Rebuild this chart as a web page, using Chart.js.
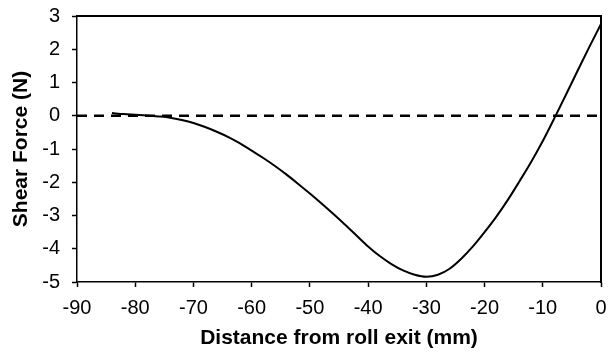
<!DOCTYPE html>
<html>
<head>
<meta charset="utf-8">
<script src="https://cdn.jsdelivr.net/npm/chart.js@4.4.0/dist/chart.umd.min.js"></script>
<style>
  html, body { margin: 0; padding: 0; background: #fff; }
  #wrap { width: 612px; height: 354px; }
</style>
</head>
<body>
<div id="wrap"><canvas id="myChart" width="612" height="354"></canvas></div>
<script>
// distance from roll exit (mm) and shear force (N)
var distance = [-84, -82, -80, -78, -76, -74, -72, -70, -68, -66, -64, -62, -60, -58, -56, -54, -52, -50,
                -48, -46, -44, -42, -40, -38, -36, -34, -32, -30, -28, -26, -24, -22, -20, -18, -16, -14,
                -12, -10, -8, -6, -4, -2, 0];
var shearForce = [0.08, 0.05, 0.03, 0.01, -0.02, -0.06, -0.13, -0.22, -0.34, -0.48, -0.64, -0.83, -1.05, -1.27, -1.51, -1.77, -2.05, -2.34,
                  -2.64, -2.95, -3.27, -3.6, -3.93, -4.22, -4.46, -4.65, -4.78, -4.84, -4.78, -4.6, -4.3, -3.93, -3.5, -3.04, -2.53, -1.97,
                  -1.39, -0.76, -0.07, 0.64, 1.36, 2.07, 2.76];
var zeroLineX = [-90, 0];
var zeroLineY = [0, 0];

var fontName = '"Liberation Sans", Arial, sans-serif';

var curve = distance.map(function (d, i) { return { x: d, y: shearForce[i] }; });
var zero = zeroLineX.map(function (d, i) { return { x: d, y: zeroLineY[i] }; });

var ctx = document.getElementById('myChart').getContext('2d');
var chart = new Chart(ctx, {
    type: 'scatter',
    data: {
        datasets: [{
            data: zero,
            showLine: true,
            borderColor: '#000',
            borderWidth: 2.5,
            borderDash: [10, 7],
            pointRadius: 0
        }, {
            data: curve,
            showLine: true,
            borderColor: '#000',
            borderWidth: 2,
            cubicInterpolationMode: 'monotone',
            pointRadius: 0
        }]
    },
    options: {
        responsive: false,
        animation: false,
        layout: { padding: { top: 16, right: 11, left: 0, bottom: 0 } },
        plugins: { legend: { display: false }, tooltip: { enabled: false } },
        scales: {
            x: {
                type: 'linear',
                min: -90, max: 0,
                ticks: { stepSize: 10, color: '#000', padding: 9, font: { family: fontName, size: 20 } },
                grid: { drawOnChartArea: false, color: '#000', tickLength: 5, tickWidth: 1.5 },
                border: { color: '#000', width: 1.5 },
                title: { display: true, text: 'Distance from roll exit (mm)', color: '#000', padding: { top: 0, bottom: 3 },
                         font: { family: fontName, size: 21, weight: 'bold' } },
                afterFit: function (s) { s.height = 72; s.paddingRight = 0; s.paddingLeft = 0; }
            },
            y: {
                min: -5, max: 3,
                ticks: { stepSize: 1, color: '#000', padding: 12, font: { family: fontName, size: 20 } },
                grid: { drawOnChartArea: false, color: '#000', tickLength: 5, tickWidth: 1.5 },
                border: { color: '#000', width: 1.5 },
                title: { display: true, text: 'Shear Force (N)', color: '#000', padding: { top: 9, bottom: 0 },
                         font: { family: fontName, size: 21, weight: 'bold' } },
                afterFit: function (s) { s.width = 77; s.paddingTop = 0; s.paddingBottom = 0; }
            },
            // top and right axes only close the box round the plot
            x2: {
                type: 'linear', position: 'top', min: -90, max: 0, display: true,
                ticks: { display: false },
                grid: { drawOnChartArea: false, drawTicks: false, color: '#000' },
                border: { color: '#000', width: 2 },
                afterFit: function (s) { s.height = 0; s.paddingLeft = 0; s.paddingRight = 0; }
            },
            y2: {
                type: 'linear', position: 'right', min: -5, max: 3, display: true,
                ticks: { display: false },
                grid: { drawOnChartArea: false, drawTicks: false, color: '#000' },
                border: { color: 'rgb(0,0,0)', width: 2 },
                afterFit: function (s) { s.width = 0; s.paddingTop = 0; s.paddingBottom = 0; }
            }
        }
    }
});
</script>
</body>
</html>
